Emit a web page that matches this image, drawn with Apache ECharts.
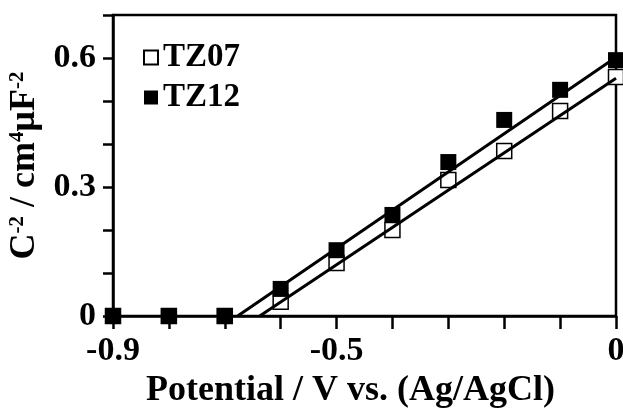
<!DOCTYPE html>
<html>
<head>
<meta charset="utf-8">
<script src="https://cdn.jsdelivr.net/npm/echarts@6/dist/echarts.min.js"></script>
<style>
  html, body { margin: 0; padding: 0; background: #fff; }
  #chart { width: 623px; height: 410px; }
</style>
</head>
<body>
<div id="chart"></div>
<script>
// potentials (V vs Ag/AgCl)
const potentials = [-0.9, -0.8, -0.7, -0.6, -0.5, -0.4, -0.3, -0.2, -0.1, 0];
// C^-2 values
const tz07 = [0, 0, 0, 0.033, 0.123, 0.2, 0.316, 0.384, 0.477, 0.556];
const tz12 = [0, 0, 0, 0.063, 0.153, 0.235, 0.358, 0.456, 0.526, 0.595];
// linear fit lines (end points)
const tz07FitX = [-0.6375, 0];
const tz07FitY = [0, 0.553];
const tz12FitX = [-0.677, 0];
const tz12FitY = [0, 0.602];
// labelled ticks
const xTickLabels = [-0.9, -0.5, 0];
const yTickLabels = [0, 0.3, 0.6];

const font = 'Liberation Serif';
const black = '#000';

function pairs(xs, ys) {
  return xs.map((x, i) => [x, ys[i]]);
}
function onlyLabels(list) {
  return function (v) {
    for (let i = 0; i < list.length; i++) {
      if (Math.abs(v - list[i]) < 1e-6) return String(list[i]);
    }
    return '';
  };
}

const chart = echarts.init(document.getElementById('chart'), null, { renderer: 'canvas' });

const option = {
  animation: false,
  grid: {
    left: 113, right: 7, top: 15, bottom: 94,
    show: true, borderColor: black, borderWidth: 2.5,
    containLabel: false, outerBoundsMode: 'none'
  },
  legend: {
    data: ['TZ07', 'TZ12'],
    orient: 'vertical',
    left: 138, top: 36,
    itemWidth: 14, itemHeight: 14, itemGap: 7,
    icon: 'rect',
    textStyle: { fontFamily: font, fontWeight: 'bold', fontSize: 33, color: black }
  },
  xAxis: {
    type: 'value',
    min: -0.9, max: 0, interval: 0.1,
    splitLine: { show: false },
    axisLine: { onZero: false, lineStyle: { color: black, width: 2.5 } },
    axisTick: { length: 13, lineStyle: { color: black, width: 2.5 } },
    axisLabel: {
      margin: 18, color: black, fontFamily: font, fontWeight: 'bold', fontSize: 34,
      formatter: onlyLabels(xTickLabels), showMinLabel: true, showMaxLabel: true
    },
    name: 'Potential / V vs. (Ag/AgCl)',
    nameLocation: 'middle', nameGap: 49,
    nameTextStyle: {
      color: black, fontFamily: font, fontWeight: 'bold', fontSize: 36,
      padding: [0, 28, 0, 0]
    }
  },
  yAxis: {
    type: 'value',
    min: 0, max: 0.7, interval: 0.1,
    splitLine: { show: false },
    axisLine: { onZero: false, lineStyle: { color: black, width: 2.5 } },
    axisTick: { length: 10, lineStyle: { color: black, width: 2.5 } },
    axisLabel: {
      margin: 17, color: black, fontFamily: font, fontWeight: 'bold', fontSize: 34,
      formatter: onlyLabels(yTickLabels)
    },
    name: '{a|C}{s|-2}{a| / cm}{s|4}{a|μF}{s|-2}',
    nameLocation: 'middle', nameGap: 65, nameRotate: 90,
    nameTextStyle: {
      color: black,
      rich: {
        a: { fontFamily: font, fontWeight: 'bold', fontSize: 36, lineHeight: 36, color: black },
        s: { fontFamily: font, fontWeight: 'bold', fontSize: 21, lineHeight: 36, verticalAlign: 'top', color: black }
      }
    }
  },
  series: [
    {
      name: 'TZ07', type: 'scatter', symbol: 'rect', symbolSize: 15, clip: false,
      itemStyle: { color: '#fff', borderColor: black, borderWidth: 1.5, opacity: 1 },
      data: pairs(potentials, tz07), z: 2
    },
    {
      name: 'TZ12', type: 'scatter', symbol: 'rect', symbolSize: 16, clip: false,
      itemStyle: { color: black, opacity: 1 },
      data: pairs(potentials, tz12), z: 3
    },
    {
      name: 'TZ07 fit', type: 'line', showSymbol: false, symbol: 'none',
      lineStyle: { color: black, width: 3 },
      data: pairs(tz07FitX, tz07FitY), z: 4
    },
    {
      name: 'TZ12 fit', type: 'line', showSymbol: false, symbol: 'none',
      lineStyle: { color: black, width: 3 },
      data: pairs(tz12FitX, tz12FitY), z: 4
    }
  ]
};

chart.setOption(option);
</script>
</body>
</html>
